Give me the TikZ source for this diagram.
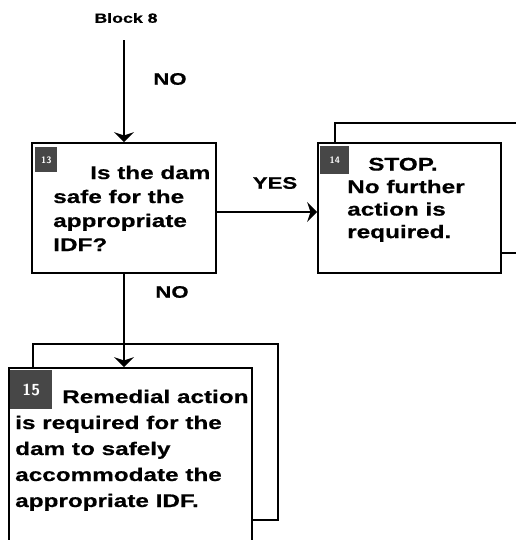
\documentclass[tikz,border=0pt]{standalone}
\usepackage{fontspec}
\setmainfont{Liberation Sans}
\newfontfamily\boxfont{Liberation Sans}[FakeStretch=1.33,FakeBold=0.6]
\usetikzlibrary{arrows.meta,positioning}

\tikzset{
  blockbox/.style={draw, line width=1.3pt, minimum width=#1, inner sep=0pt},
  blocktext/.style={font=\boxfont\bfseries\fontsize{13.7}{#1}\selectfont, align=left, inner sep=0pt, anchor=north west},
  numbadge/.style={fill=black!72, text=white!80, font=\sffamily\bfseries\scriptsize, inner sep=1pt, anchor=north west},
  flowarrow/.style={line width=1.3pt, -{Stealth[length=7.5pt,width=15pt,inset=2.5pt]}},
  answer/.style={font=\boxfont\bfseries\fontsize{12.5}{14}\selectfont}
}

\begin{document}
\begin{tikzpicture}[x=0.75pt, y=-0.75pt]
	\useasboundingbox (0,0) rectangle (516,540);

	% the three boxes
		\node[blockbox=184*0.75pt, minimum height=130*0.75pt] (safe) at (124,208) {};
		\node[blockbox=183*0.75pt, minimum height=130*0.75pt] (stop) at (409.5,208) {};
		\node[blockbox=243*0.75pt, minimum height=180*0.75pt] (remedial) at (130.5,458) {};

	% boxes behind
		\draw[line width=1.3pt] (335,143) -- (335,123) -- (518,123);
		\draw[line width=1.3pt] (stop.east |- 0,253) -- (518,253);
		\draw[line width=1.3pt] (33,368) -- (33,344) -- (278,344) -- (278,520) -- (remedial.east |- 0,520);

	% numbers
		\node[numbadge, minimum width=22*0.75pt, minimum height=25*0.75pt] (n13) at (35,147) {13};
		\node[numbadge, minimum width=29*0.75pt, minimum height=28*0.75pt] (n14) at (320,146) {14};
		\node[numbadge, minimum width=42*0.75pt, minimum height=39*0.75pt, font=\sffamily\bfseries\large] (n15) at (10,370) {15};

	% texts
		\node[blocktext=18pt] (safetxt) at (53,165.5) {\hspace*{27.75pt}Is the dam\\safe for the\\appropriate\\IDF?};
		\node[blocktext=16.9pt] (stoptxt) at (347,157.5) {\hspace*{15.75pt}STOP.\\No further\\action is\\required.};
		\node[blocktext=19.5pt] (remtxt) at (15,389.5) {\hspace*{35.25pt}Remedial action\\is required for the\\dam to safely\\accommodate the\\appropriate IDF.};

	% arrows and answers
		\node[font=\boxfont\bfseries\fontsize{10}{12}\selectfont] (block8) at (126,18) {Block 8};
		\coordinate (b8end) at (124,40);
		\draw[flowarrow] (b8end) -- (safe.north);
		\node[answer] (no1) at (170,79) {NO};
		\draw[flowarrow] (safe.east |- 0,212) -- (stop.west |- 0,212);
		\node[answer] (yes) at (275,183) {YES};
		\draw[flowarrow] (safe.south) -- (remedial.north -| safe.south);
		\node[answer] (no2) at (172,292) {NO};
\end{tikzpicture}
\end{document}
